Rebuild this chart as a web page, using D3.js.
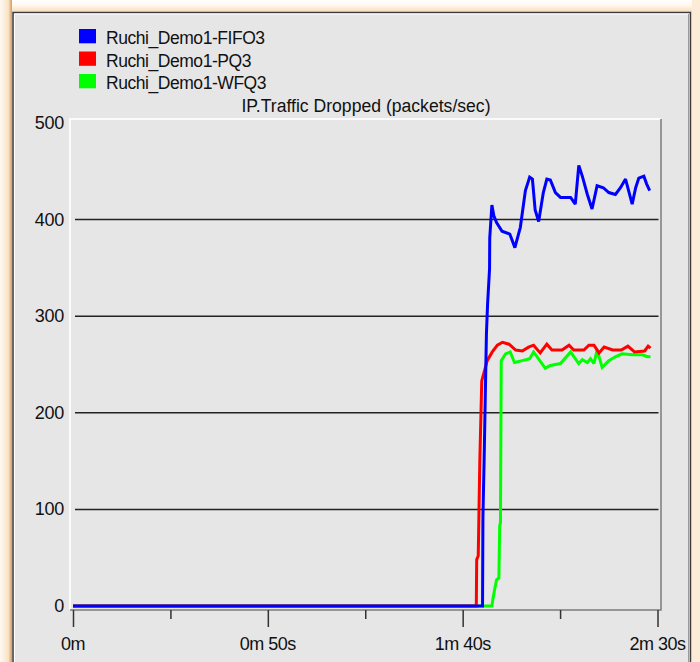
<!DOCTYPE html>
<html>
<head>
<meta charset="utf-8">
<script src="https://cdn.jsdelivr.net/npm/d3@7"></script>
<style>
  html, body { margin: 0; padding: 0; background: #fdf6ec; }
  svg { display: block; }
  text { font-family: "Liberation Sans", Arial, sans-serif; fill: #111; }
</style>
</head>
<body>
<svg id="chart" width="700" height="662"></svg>
<script>
// ---- data (time in seconds, value in packets/sec) ----
const seriesNames = ["Ruchi_Demo1-FIFO3", "Ruchi_Demo1-PQ3", "Ruchi_Demo1-WFQ3"];
const seriesColors = ["#0000ff", "#ff0000", "#00ff00"];

const fifoSeries = [
  [0, 0], [105.1, 0], [105.2, 92], [105.5, 150], [106.1, 282], [106.4, 313],
  [106.9, 349], [106.95, 381], [107.5, 415], [108.0, 404], [108.7, 397],
  [110.1, 388], [112.1, 385], [113.4, 371], [114.8, 392], [116.1, 430],
  [117.2, 444], [117.9, 442], [118.6, 410], [119.5, 398], [120.7, 428],
  [121.6, 442], [122.5, 441], [123.8, 428], [125.1, 423], [127.7, 423],
  [128.9, 416], [129.8, 456], [130.7, 445], [132.0, 426], [133.2, 411],
  [134.5, 435], [136.1, 433], [137.5, 428], [139.2, 426], [140.5, 433],
  [141.8, 442], [143.5, 416], [144.4, 433], [145.2, 443], [146.5, 445],
  [147.2, 437], [148.0, 430]
];

const pqSeries = [
  [0, 0], [103.5, 0], [103.6, 48], [104.0, 52], [104.4, 150], [104.9, 233],
  [106.3, 254], [107.6, 263], [108.9, 270], [110.2, 273], [111.9, 271],
  [113.6, 265], [115.3, 264], [116.9, 268], [118.2, 270], [119.9, 262],
  [121.6, 271], [122.9, 265], [125.5, 265], [127.3, 270], [128.5, 265],
  [131.1, 265], [132.4, 270], [133.7, 270], [135.0, 262], [136.3, 268],
  [138.5, 265], [140.7, 265], [142.4, 269], [144.1, 263], [146.7, 264],
  [147.6, 269], [148.2, 267]
];

const wfqSeries = [
  [0, 0], [107.5, 0], [107.8, 8], [108.2, 17], [108.7, 27], [109.3, 29],
  [109.5, 83], [109.7, 86], [109.9, 254], [111.0, 261], [112.2, 263],
  [113.3, 252], [115.3, 254], [117.2, 256], [118.2, 263], [119.8, 254],
  [121.2, 246], [122.5, 249], [125.1, 251], [126.4, 257], [127.7, 263],
  [129.8, 251], [130.7, 255], [132.0, 252], [132.8, 256], [133.7, 251],
  [134.5, 265], [135.8, 247], [137.5, 254], [139.2, 258], [140.9, 261],
  [143.5, 260], [146.1, 260], [147.4, 258], [148.2, 258]
];

const seriesData = [fifoSeries, pqSeries, wfqSeries];

const chartTitle = "IP.Traffic Dropped (packets/sec)";
const yTickValues = [0, 100, 200, 300, 400, 500];
const yGridValues = [100, 200, 300, 400];
const xTickValues = [0, 25, 50, 75, 100, 125, 150];
const xMajorTicks = [0, 50, 100, 150];
const xTickLabels = ["0m", "0m 50s", "1m 40s", "2m 30s"];

// ---- layout ----
const svg = d3.select("#chart");
const W = 700, H = 662;
const frame = { left: 70, top: 119, right: 661, bottom: 610 };

const x = d3.scaleLinear().domain([0, 150]).range([73, 657.5]);
const y = d3.scaleLinear().domain([0, 500]).range([606, 123]);

// ---- window chrome ----
const defs = svg.append("defs");
const gTop = defs.append("linearGradient").attr("id", "gTop")
  .attr("x1", 0).attr("y1", 0).attr("x2", 0).attr("y2", 1);
gTop.append("stop").attr("offset", "0%").attr("stop-color", "#ffffff");
gTop.append("stop").attr("offset", "45%").attr("stop-color", "#fff8ee");
gTop.append("stop").attr("offset", "100%").attr("stop-color", "#f9ddb8");
const gLeft = defs.append("linearGradient").attr("id", "gLeft")
  .attr("x1", 0).attr("y1", 0).attr("x2", 1).attr("y2", 0);
gLeft.append("stop").attr("offset", "0%").attr("stop-color", "#fffaf3");
gLeft.append("stop").attr("offset", "70%").attr("stop-color", "#f8e2c4");
gLeft.append("stop").attr("offset", "100%").attr("stop-color", "#d99a5c");

svg.append("rect").attr("width", W).attr("height", H).attr("fill", "#fdf3e6");
svg.append("rect").attr("x", 0).attr("y", 0).attr("width", W).attr("height", 12).attr("fill", "url(#gTop)");
svg.append("rect").attr("x", 0).attr("y", 0).attr("width", 12).attr("height", H).attr("fill", "url(#gLeft)");
svg.append("rect").attr("x", 692).attr("y", 0).attr("width", 8).attr("height", H).attr("fill", "#fcebd6");

// panel
svg.append("rect")
  .attr("x", 13).attr("y", 12.5).attr("width", 677.5).attr("height", H)
  .attr("fill", "#e6e6e6").attr("stroke", "#3c3c3c").attr("stroke-width", 1.5);
svg.append("path").attr("d", "M14.5,662V14H689").attr("fill", "none")
  .attr("stroke", "#ffffff").attr("stroke-width", 1);
svg.append("line").attr("x1", 688.5).attr("x2", 688.5).attr("y1", 14).attr("y2", H)
  .attr("stroke", "#9a9a9a").attr("stroke-width", 1);

// ---- plot frame: light top/left edge, dark bottom/right edge ----
svg.append("path")
  .attr("d", `M${frame.left},${frame.bottom}V${frame.top}H${frame.right}`)
  .attr("fill", "none").attr("stroke", "#fbfbfb").attr("stroke-width", 2);
svg.append("path")
  .attr("d", `M${frame.left},${frame.bottom}H${frame.right}V${frame.top}`)
  .attr("fill", "none").attr("stroke", "#7c7c7c").attr("stroke-width", 1.5);

// ---- grid lines ----
svg.append("g").selectAll("line").data(yGridValues).join("line")
  .attr("x1", x(0) + 2).attr("x2", x(150) + 1)
  .attr("y1", d => y(d)).attr("y2", d => y(d))
  .attr("stroke", "#222").attr("stroke-width", 1.5);

// ---- y axis labels ----
svg.append("g").selectAll("text").data(yTickValues).join("text")
  .attr("x", 64).attr("y", d => y(d))
  .attr("text-anchor", "end").attr("dominant-baseline", "central")
  .attr("font-size", 18).attr("letter-spacing", -0.3)
  .text(d => d);

// ---- x axis ticks & labels ----
const xAxis = d3.axisBottom(x)
  .tickValues(xTickValues)
  .tickSizeOuter(0)
  .tickSizeInner(0)
  .tickFormat(() => "");
const gx = svg.append("g").attr("transform", `translate(0,${frame.bottom})`).call(xAxis);
gx.select(".domain").remove();
gx.selectAll(".tick line")
  .attr("y2", d => xMajorTicks.includes(d) ? 17 : 9)
  .attr("stroke", "#333").attr("stroke-width", 1.5);

svg.append("g").selectAll("text").data(xMajorTicks).join("text")
  .attr("x", d => x(d)).attr("y", 650)
  .attr("text-anchor", "middle")
  .attr("font-size", 18).attr("letter-spacing", -0.5)
  .text((d, i) => xTickLabels[i]);

// ---- title ----
svg.append("text")
  .attr("x", (frame.left + frame.right) / 2 + 0.5).attr("y", 112)
  .attr("text-anchor", "middle").attr("font-size", 17.6)
  .text(chartTitle);

// ---- legend ----
const legend = svg.append("g");
seriesNames.forEach((name, i) => {
  legend.append("rect")
    .attr("x", 79).attr("y", 29 + i * 22.5).attr("width", 17).attr("height", 14.3)
    .attr("fill", seriesColors[i]);
  legend.append("text")
    .attr("x", 106).attr("y", 44 + i * 22.5)
    .attr("font-size", 17.5).attr("letter-spacing", -0.45)
    .text(name);
});

// ---- series lines (drawn last-to-first so FIFO sits on top) ----
const line = d3.line().x(d => x(d[0])).y(d => y(d[1]));
const gLines = svg.append("g");
[2, 1, 0].forEach(i => {
  gLines.append("path")
    .datum(seriesData[i])
    .attr("d", line)
    .attr("fill", "none")
    .attr("stroke", seriesColors[i])
    .attr("stroke-width", 3)
    .attr("stroke-linejoin", "miter")
    .attr("stroke-miterlimit", 2);
});
</script>
</body>
</html>
